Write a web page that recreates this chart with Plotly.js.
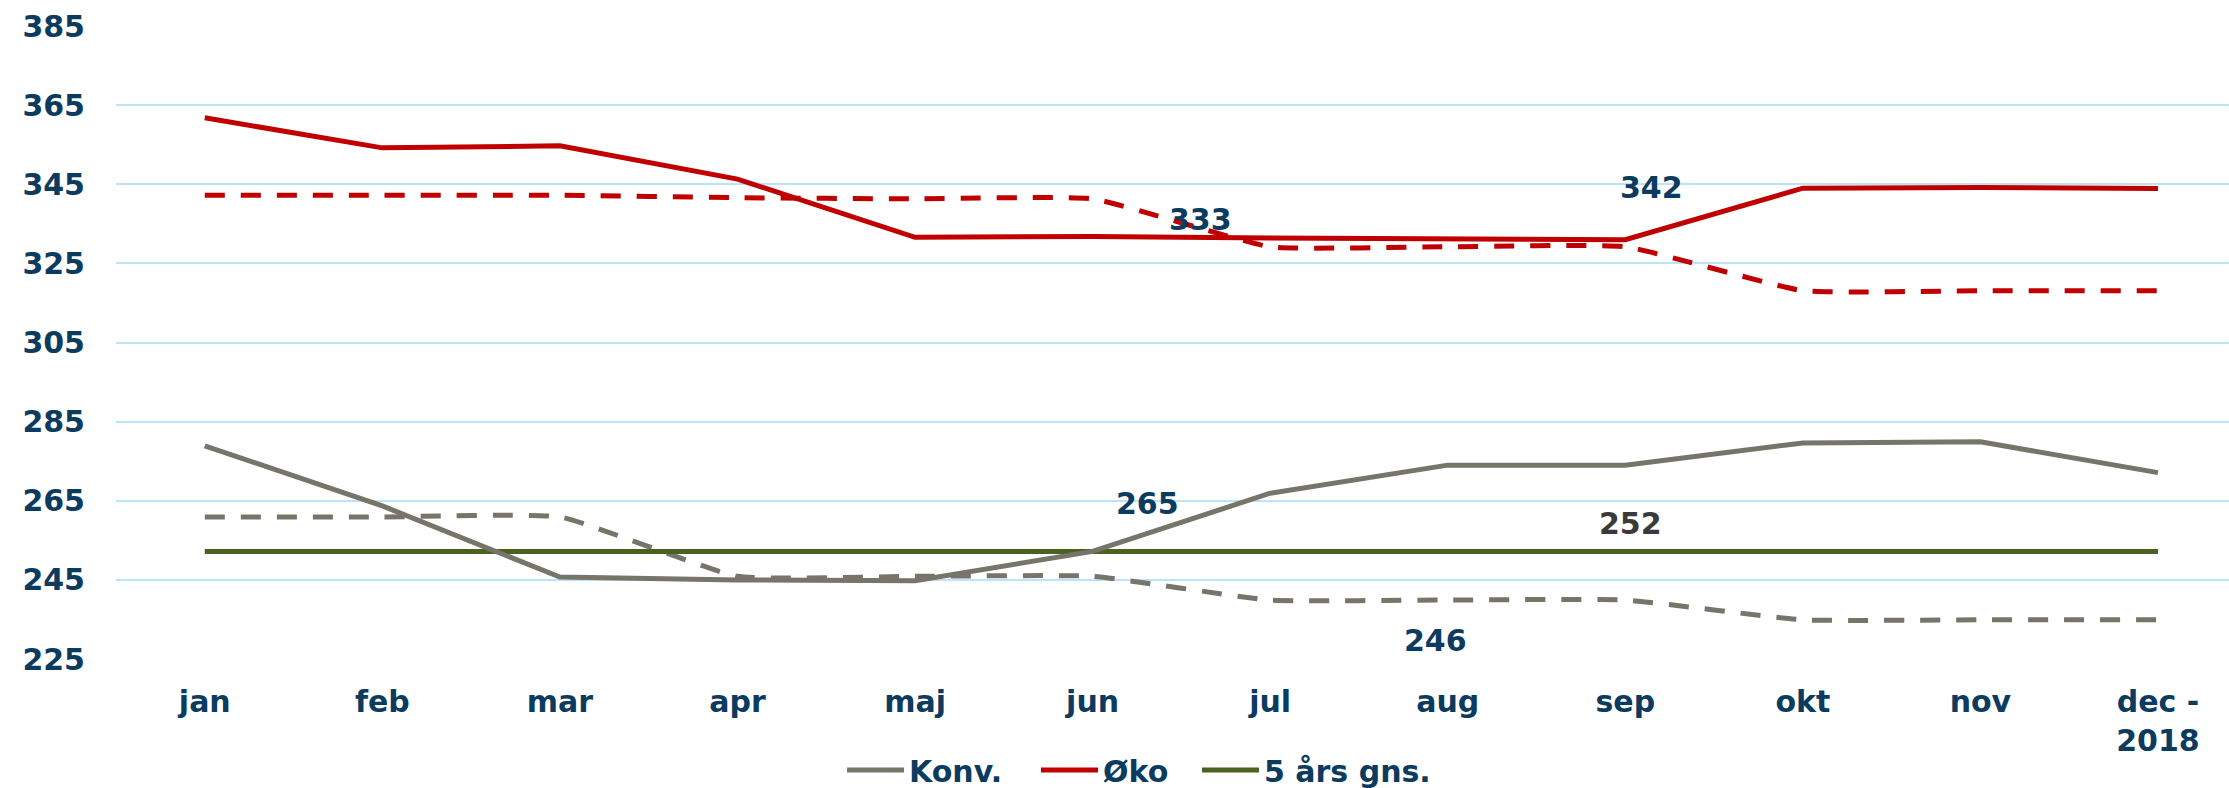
<!DOCTYPE html>
<html>
<head>
<meta charset="utf-8">
<script src="https://cdn.plot.ly/plotly-3.0.1.min.js"></script>
<style>
  html, body { margin: 0; padding: 0; background: #ffffff; }
  #chart { width: 2229px; height: 788px; }
</style>
</head>
<body>
<div id="chart"></div>
<script>
let months = ['jan','feb','mar','apr','maj','jun','jul','aug','sep','okt','nov','dec -<br>2018']

// solid lines: this year
let konv = [278.9, 263.7, 245.7, 245.0, 244.8, 252.2, 266.9, 274.0, 274.0, 279.6, 279.9, 272.1]
let oko = [361.8, 354.2, 354.7, 346.3, 331.6, 331.8, 331.4, 331.1, 331.0, 344.0, 344.2, 343.9]

// dashed lines: previous year
let konv_prev = [260.9, 260.9, 260.9, 245.9, 245.9, 245.9, 239.9, 239.9, 239.9, 234.9, 234.9, 234.9]
let oko_prev = [342.2, 342.2, 342.2, 341.6, 341.3, 341.3, 329.2, 329.2, 329.2, 318.1, 318.1, 318.1]

// 5 year average
let avg5 = [252.2, 252.2, 252.2, 252.2, 252.2, 252.2, 252.2, 252.2, 252.2, 252.2, 252.2, 252.2]

let navy = '#0B3B5E'
let grey = '#77746A'
let red = '#C00000'
let green = '#4A6220'
let font30 = {family: 'DejaVu Sans', size: 30, color: navy, weight: 'bold'}

let trace_konv = {
  x: months, y: konv, name: 'Konv.', mode: 'lines', type: 'scatter',
  line: {color: grey, width: 5}, legend: 'legend'
}
let trace_oko = {
  x: months, y: oko, name: 'Øko', mode: 'lines', type: 'scatter',
  line: {color: red, width: 5}, legend: 'legend2'
}
let trace_avg = {
  x: months, y: avg5, name: '5 års gns.', mode: 'lines', type: 'scatter',
  line: {color: green, width: 5}, legend: 'legend3'
}
let trace_konv_prev = {
  x: months, y: konv_prev, name: 'Konv. forrige år', mode: 'lines', type: 'scatter',
  line: {color: grey, width: 5, dash: '20px,16px', shape: 'spline', smoothing: 0.4},
  showlegend: false
}
let trace_oko_prev = {
  x: months, y: oko_prev, name: 'Øko forrige år', mode: 'lines', type: 'scatter',
  line: {color: red, width: 5, dash: '20px,16px', shape: 'spline', smoothing: 0.4},
  showlegend: false
}

let label = function(x, y, text, color) {
  return {x: x, y: y, xref: 'x', yref: 'y', text: text, showarrow: false,
    font: {family: 'DejaVu Sans', size: 30, color: color, weight: 'bold'}}
}

// one legend per entry so the gaps match the original
let legendAt = function(x) {
  return {
    orientation: 'h',
    x: x, xanchor: 'left',
    y: -0.1754, yanchor: 'middle',
    font: font30,
    itemwidth: 57,
    bgcolor: 'rgba(0,0,0,0)'
  }
}

let layout = {
  width: 2229,
  height: 788,
  margin: {l: 116, r: 0, t: 26, b: 129, autoexpand: false},
  paper_bgcolor: '#ffffff',
  plot_bgcolor: '#ffffff',
  font: font30,
  xaxis: {
    type: 'category',
    range: [-0.5, 11.4],
    showgrid: false,
    zeroline: false,
    showline: false,
    ticks: '',
    ticklabelstandoff: 22,
    tickfont: font30
  },
  yaxis: {
    range: [225, 385],
    tick0: 225,
    dtick: 20,
    showgrid: true,
    gridcolor: '#BDE3F8',
    gridwidth: 2,
    zeroline: false,
    showline: false,
    ticks: '',
    ticklabelstandoff: 30,
    tickfont: font30
  },
  showlegend: true,
  legend: legendAt(0.3436),
  legend2: legendAt(0.4354),
  legend3: legendAt(0.5116),
  annotations: [
    label(5.61, 336.2, '333', navy),
    label(8.15, 344.3, '342', navy),
    label(5.31, 264.2, '265', navy),
    label(8.03, 259.2, '252', '#3A3A3A'),
    label(6.93, 229.6, '246', navy)
  ]
}

let data = [trace_konv_prev, trace_oko_prev, trace_avg, trace_konv, trace_oko]

Plotly.newPlot('chart', data, layout, {displayModeBar: false, staticPlot: true})
</script>
</body>
</html>
